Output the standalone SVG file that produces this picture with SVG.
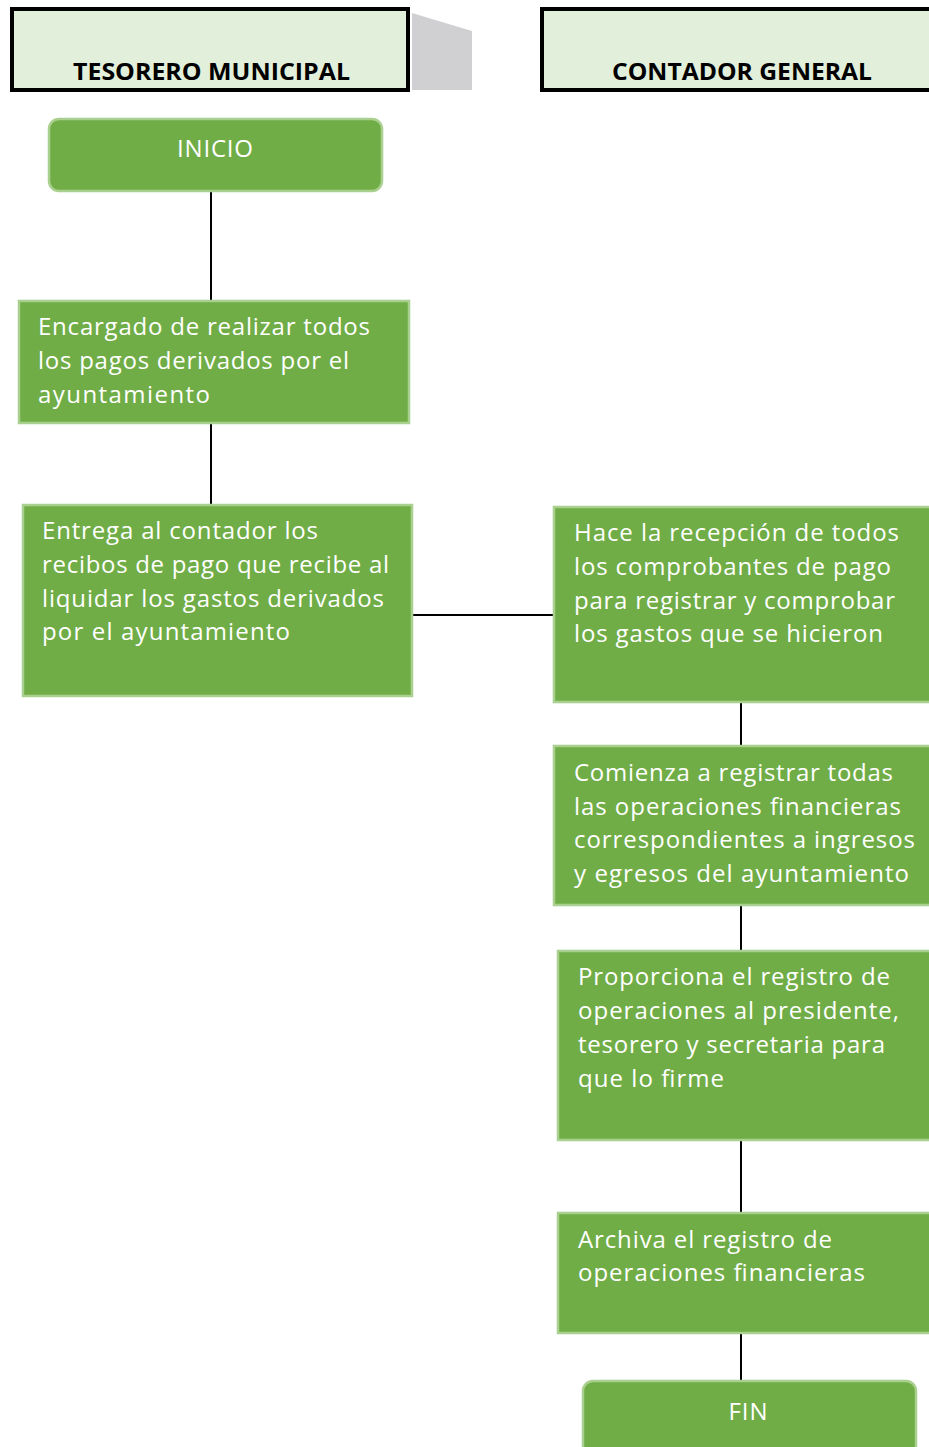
<svg xmlns="http://www.w3.org/2000/svg" width="929" height="1447" viewBox="0 0 929 1447">
<style>
.hdr{fill:#E2EFDA;stroke:#000;stroke-width:4}
.ht{font-family:"Open Sans","Liberation Sans",sans-serif;font-weight:bold;font-size:23px;fill:#000}
.box{fill:#70AD47;stroke:#A9D08E;stroke-width:2.5}
.t{font-family:"Open Sans","Liberation Sans",sans-serif;font-size:24px;fill:#fff}
.tc{font-family:"Open Sans","Liberation Sans",sans-serif;font-size:24px;fill:#fff;text-anchor:middle}
.c{stroke:#000;stroke-width:2;fill:none}
</style>
<rect width="929" height="1447" fill="#fff"/>
<g id="lane-tesorero">
<polygon points="412,13 472,31 472,90 412,90" fill="#D0D0D2"/>
<rect class="hdr" x="12" y="9" width="396" height="81"/>
<text class="ht" x="73" y="80" textLength="277" lengthAdjust="spacingAndGlyphs">TESORERO MUNICIPAL</text>
</g>
<g id="lane-contador">
<rect class="hdr" x="542" y="9" width="400" height="81"/>
<text class="ht" x="612" y="80" textLength="260" lengthAdjust="spacingAndGlyphs">CONTADOR GENERAL</text>
</g>
<g id="connectors">
<line class="c" x1="211" y1="192" x2="211" y2="300"/>
<line class="c" x1="211" y1="424" x2="211" y2="504"/>
<line class="c" x1="413" y1="615" x2="553" y2="615"/>
<line class="c" x1="741" y1="703" x2="741" y2="745"/>
<line class="c" x1="741" y1="906" x2="741" y2="950"/>
<line class="c" x1="741" y1="1141" x2="741" y2="1212"/>
<line class="c" x1="741" y1="1334" x2="741" y2="1380"/>
</g>
<g id="inicio">
<rect class="box" x="49" y="119" width="333" height="72" rx="10"/>
<text class="tc" x="215" y="157" textLength="76" lengthAdjust="spacing">INICIO</text>
</g>
<g id="encargado">
<rect class="box" x="19" y="301" width="390" height="122"/>
<text class="t" x="38" y="335" textLength="332" lengthAdjust="spacing">Encargado de realizar todos</text>
<text class="t" x="38" y="369" textLength="311" lengthAdjust="spacing">los pagos derivados por el</text>
<text class="t" x="38" y="403" textLength="172" lengthAdjust="spacing">ayuntamiento</text>
</g>
<g id="entrega">
<rect class="box" x="23" y="505" width="389" height="191"/>
<text class="t" x="42" y="539" textLength="276" lengthAdjust="spacing">Entrega al contador los</text>
<text class="t" x="42" y="573" textLength="347" lengthAdjust="spacing">recibos de pago que recibe al</text>
<text class="t" x="42" y="607" textLength="342" lengthAdjust="spacing">liquidar los gastos derivados</text>
<text class="t" x="42" y="640" textLength="248" lengthAdjust="spacing">por el ayuntamiento</text>
</g>
<g id="recepcion">
<rect class="box" x="554" y="507" width="400" height="195"/>
<text class="t" x="574" y="541" textLength="325" lengthAdjust="spacing">Hace la recepción de todos</text>
<text class="t" x="574" y="575" textLength="317" lengthAdjust="spacing">los comprobantes de pago</text>
<text class="t" x="574" y="609" textLength="321" lengthAdjust="spacing">para registrar y comprobar</text>
<text class="t" x="574" y="642" textLength="309" lengthAdjust="spacing">los gastos que se hicieron</text>
</g>
<g id="registrar">
<rect class="box" x="554" y="746" width="400" height="159"/>
<text class="t" x="574" y="781" textLength="319" lengthAdjust="spacing">Comienza a registrar todas</text>
<text class="t" x="574" y="815" textLength="327" lengthAdjust="spacing">las operaciones financieras</text>
<text class="t" x="574" y="848" textLength="341" lengthAdjust="spacing">correspondientes a ingresos</text>
<text class="t" x="574" y="882" textLength="335" lengthAdjust="spacing">y egresos del ayuntamiento</text>
</g>
<g id="proporciona">
<rect class="box" x="558" y="951" width="400" height="189"/>
<text class="t" x="578" y="985" textLength="312" lengthAdjust="spacing">Proporciona el registro de</text>
<text class="t" x="578" y="1019" textLength="321" lengthAdjust="spacing">operaciones al presidente,</text>
<text class="t" x="578" y="1053" textLength="307" lengthAdjust="spacing">tesorero y secretaria para</text>
<text class="t" x="578" y="1087" textLength="146" lengthAdjust="spacing">que lo firme</text>
</g>
<g id="archiva">
<rect class="box" x="558" y="1213" width="400" height="120"/>
<text class="t" x="578" y="1248" textLength="254" lengthAdjust="spacing">Archiva el registro de</text>
<text class="t" x="578" y="1281" textLength="287" lengthAdjust="spacing">operaciones financieras</text>
</g>
<g id="fin">
<rect class="box" x="583" y="1381" width="333" height="80" rx="10"/>
<text class="tc" x="748" y="1420" textLength="39" lengthAdjust="spacing">FIN</text>
</g>
</svg>
